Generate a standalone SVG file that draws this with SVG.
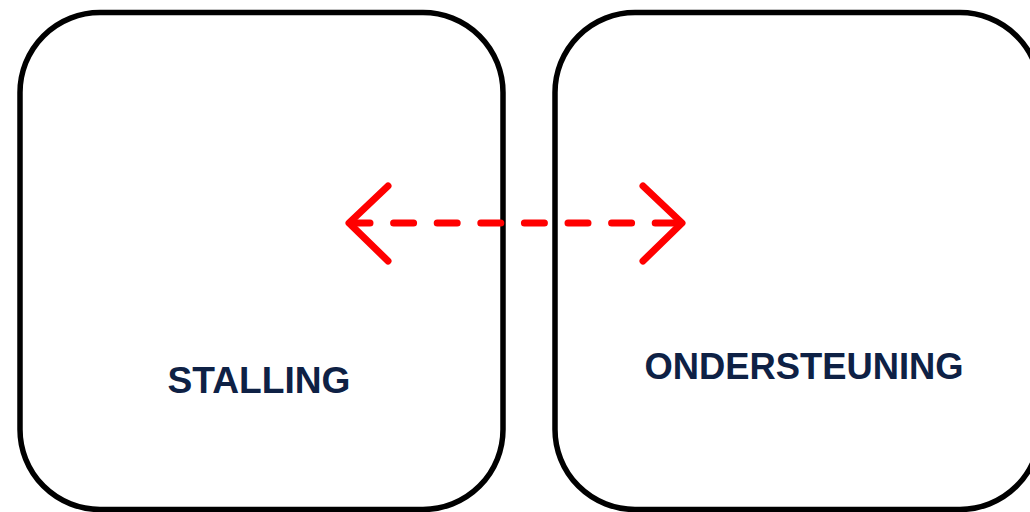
<svg xmlns="http://www.w3.org/2000/svg" width="1030" height="512" viewBox="0 0 1030 512">
<style>
.box{fill:#ffffff;stroke:#000000;stroke-width:5.5}
.lbl{font-family:"Liberation Sans",Arial,sans-serif;font-weight:bold;font-size:37px;fill:#0e2145;text-anchor:middle}
.conn{fill:none;stroke:#ff0000;stroke-width:7;stroke-linecap:round;stroke-linejoin:round}
</style>
<rect x="0" y="0" width="1030" height="512" fill="#ffffff"/>
<g id="stalling">
<rect class="box" x="20" y="12.5" width="483" height="497" rx="80" ry="80"/>
<text class="lbl" x="259" y="392.5" textLength="183" lengthAdjust="spacingAndGlyphs">STALLING</text>
</g>
<g id="ondersteuning">
<rect class="box" x="555" y="12.5" width="485" height="497" rx="80" ry="80"/>
<text class="lbl" x="804" y="379" textLength="319" lengthAdjust="spacingAndGlyphs">ONDERSTEUNING</text>
</g>
<g id="connectors">
<line class="conn" x1="350" y1="223" x2="681" y2="223" stroke-dasharray="20 23.6"/>
<polyline class="conn" points="388,186 349,223 388,261"/>
<polyline class="conn" points="643,186 682,223 643,261"/>
</g>
</svg>
